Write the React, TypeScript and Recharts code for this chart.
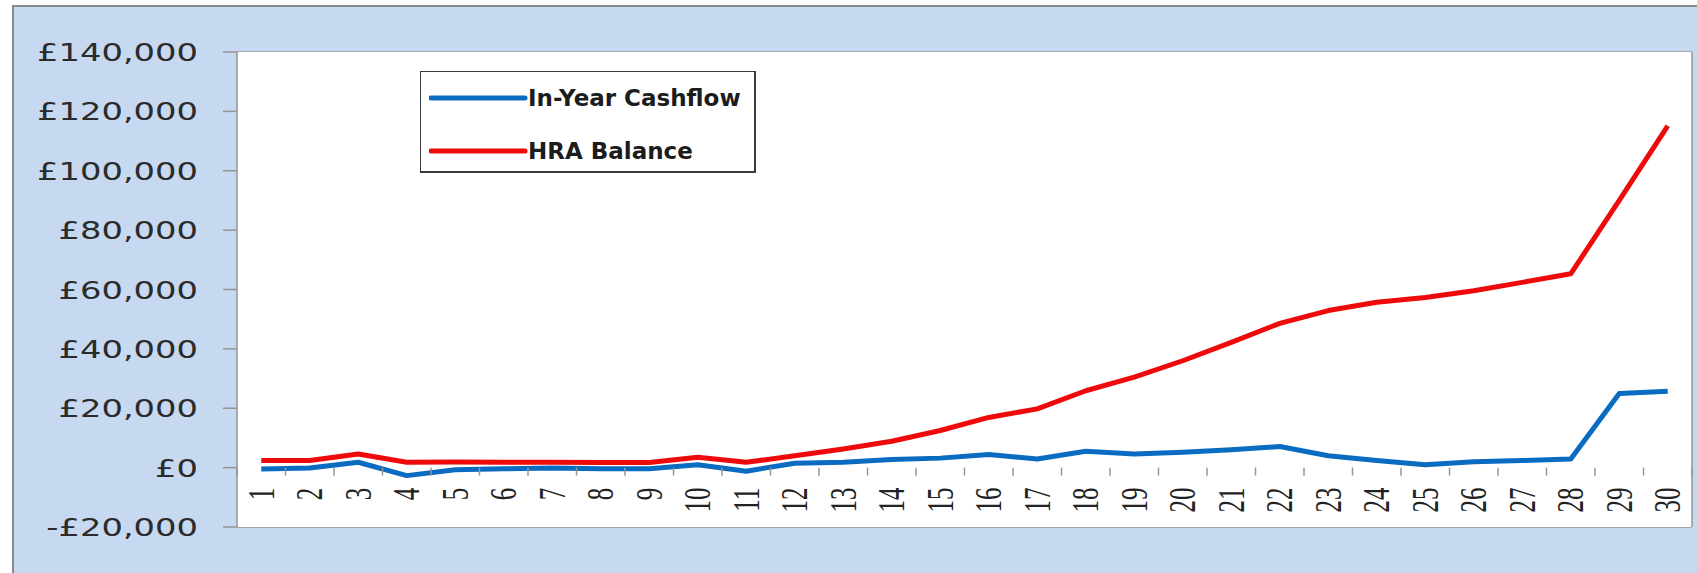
import { CartesianGrid, Legend, Line, LineChart, XAxis, YAxis } from "recharts";

const years = [1, 2, 3, 4, 5, 6, 7, 8, 9, 10, 11, 12, 13, 14, 15, 16, 17, 18, 19, 20, 21, 22, 23, 24, 25, 26, 27, 28, 29, 30];
const inYearCashflow = [-500, -100, 1800, -2700, -700, -400, -100, -400, -400, 1000, -1200, 1500, 1800, 2700, 3200, 4400, 2900, 5500, 4600, 5200, 6000, 7100, 4000, 2400, 1000, 2000, 2400, 2900, 25000, 25700];
const hraBalance = [2400, 2400, 4600, 1800, 1900, 1800, 1800, 1700, 1700, 3500, 1800, 4000, 6300, 8900, 12500, 16900, 19800, 25900, 30500, 36000, 42200, 48600, 52900, 55700, 57300, 59600, 62400, 65300, 90000, 115100];
const yTicks = [-20000, 0, 20000, 40000, 60000, 80000, 100000, 120000, 140000];

const data = years.map((year, i) => ({ year, cashflow: inYearCashflow[i], balance: hraBalance[i] }));

const W = 1697;
const H = 573;
const margin = { top: 52, right: 0, bottom: 0, left: 0 };
const yAxisW = 237;
const rightW = 5;
const xAxisH = 46;
const plotW = W - yAxisW - rightW;
const plotH = H - margin.top - xAxisH;
const halfStep = plotW / years.length / 2;
const zeroOffset = (plotH * (0 - yTicks[0])) / (yTicks[yTicks.length - 1] - yTicks[0]);

const grid = "#959595";
const blue = "#0a6cc0";
const red = "#ee0a0a";

const money = (v: number) => {
  const s = Math.abs(v).toString().replace(/\B(?=(\d{3})+(?!\d))/g, ",");
  return (v < 0 ? "-£" : "£") + s;
};

function YTick({ x, y, payload }: any) {
  return (
    <g transform={`translate(${x},${y}) scale(1.35,1)`}>
      <text x={0} y={0} dy="0.36em" textAnchor="end" fill="#2b2b2b" fontSize={25} fontFamily="DejaVu Sans">
        {money(payload.value)}
      </text>
    </g>
  );
}

function XTick({ x, y, payload, index }: any) {
  const zy = y - zeroOffset;
  return (
    <g>
      {index === 0 && <line x1={x - halfStep} x2={x - halfStep} y1={zy} y2={zy + 8} stroke={grid} strokeWidth={1.5} />}
      <line x1={x + halfStep} x2={x + halfStep} y1={zy} y2={zy + 8} stroke={grid} strokeWidth={1.5} />
      <g transform={`translate(${x},${zy + 20}) rotate(-90) scale(1,1.5)`}>
        <text x={0} y={0} dy="0.33em" textAnchor="end" fill="#222" fontSize={25} fontFamily="Liberation Serif">
          {payload.value}
        </text>
      </g>
    </g>
  );
}

function LegendBox() {
  const rows = [
    { label: "In-Year Cashflow", color: blue },
    { label: "HRA Balance", color: red },
  ];
  return (
    <div
      style={{
        width: 336,
        height: 102,
        background: "#fff",
        border: "1.5px solid #3a3a3a",
        borderRightWidth: 2.5,
        borderBottomWidth: 2.5,
        boxSizing: "border-box",
        paddingTop: 12,
      }}
    >
      {rows.map((r) => (
        <div key={r.label} style={{ display: "flex", alignItems: "center", height: 28, marginBottom: 25 }}>
          <svg width={100} height={10} style={{ marginLeft: 8 }}>
            <line x1={2} x2={96} y1={5} y2={5} stroke={r.color} strokeWidth={5} strokeLinecap="round" />
          </svg>
          <span style={{ fontFamily: "DejaVu Sans", fontWeight: "bold", fontSize: 23, color: "#1c1c1c", marginLeft: -1 }}>
            {r.label}
          </span>
        </div>
      ))}
    </div>
  );
}

export default function App() {
  return (
    <div style={{ position: "absolute", left: 0, top: 0, width: W, height: H, overflow: "hidden", background: "#fff" }}>
      <div
        style={{
          position: "absolute",
          left: 12,
          top: 5,
          width: W,
          height: H,
          background: "#c6d9f1",
          borderLeft: "2px solid #8a8a8a",
          borderTop: "2px solid #8a8a8a",
        }}
      />
      <div style={{ position: "absolute", left: 0, top: 0 }}>
        <LineChart width={W} height={H} data={data} margin={margin}>
          <rect x={yAxisW} y={margin.top} width={plotW} height={plotH} fill="#fff" />
          <CartesianGrid vertical={false} stroke={grid} strokeWidth={1.5} />
          <XAxis
            dataKey="year"
            type="number"
            domain={[0.5, 30.5]}
            ticks={years}
            interval={0}
            height={xAxisH}
            axisLine={false}
            tickLine={false}
            tickSize={0}
            tickMargin={0}
            tick={<XTick />}
          />
          <YAxis
            domain={[yTicks[0], yTicks[yTicks.length - 1]]}
            ticks={yTicks}
            interval={0}
            width={yAxisW}
            axisLine={{ stroke: grid, strokeWidth: 1.5 }}
            tickLine={{ stroke: grid, strokeWidth: 1.5 }}
            tickSize={14}
            tickMargin={25}
            tick={<YTick />}
          />
          <YAxis
            yAxisId="right"
            orientation="right"
            domain={[0, 1]}
            width={rightW}
            tick={false}
            tickLine={false}
            axisLine={{ stroke: grid, strokeWidth: 1.5 }}
          />
          <Legend
            layout="horizontal"
            verticalAlign="middle"
            content={<LegendBox />}
            wrapperStyle={{ position: "absolute", left: 420, top: 71, width: 338, height: 104 }}
          />
          <Line
            type="linear"
            dataKey="cashflow"
            name="In-Year Cashflow"
            stroke={blue}
            strokeWidth={5}
            strokeLinejoin="round"
            dot={false}
            activeDot={false}
            isAnimationActive={false}
          />
          <Line
            type="linear"
            dataKey="balance"
            name="HRA Balance"
            stroke={red}
            strokeWidth={5}
            strokeLinejoin="round"
            dot={false}
            activeDot={false}
            isAnimationActive={false}
          />
        </LineChart>
      </div>
    </div>
  );
}
